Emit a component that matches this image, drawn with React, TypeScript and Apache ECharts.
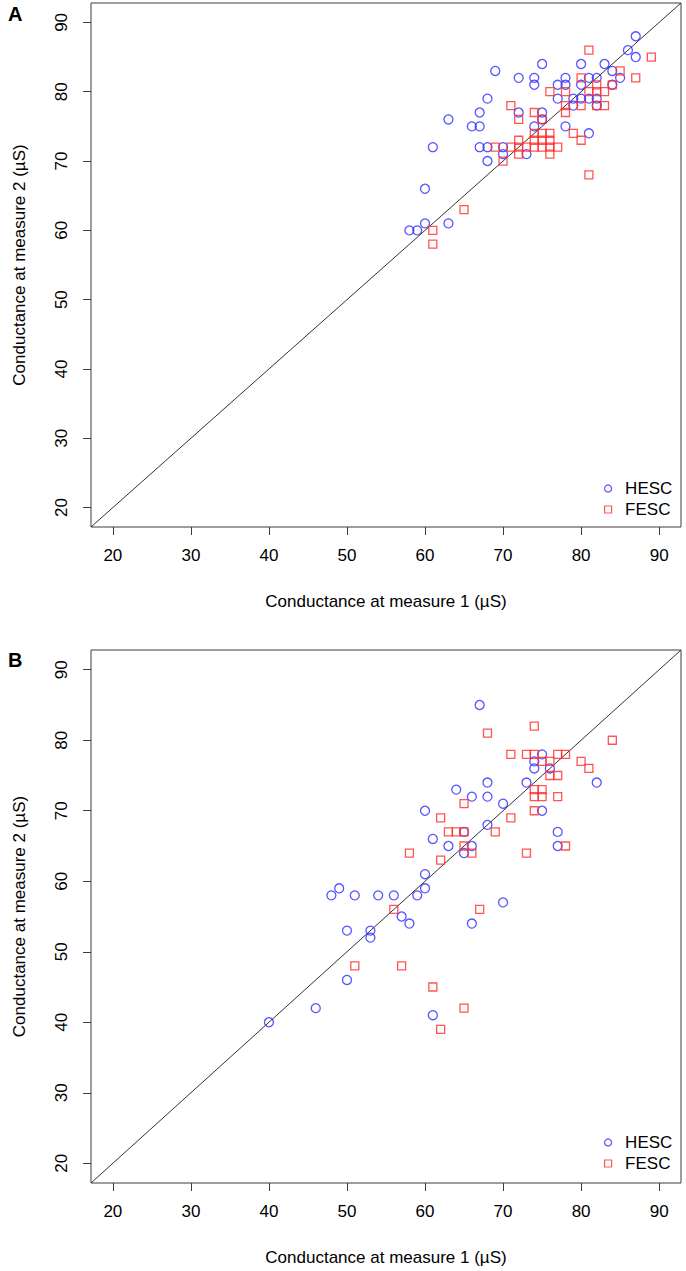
import React, { useEffect, useRef } from "react";
import * as echarts from "echarts";

// ---- data ----
const axisMin = 17.2;
const axisMax = 92.8;
const tickValues = [20, 30, 40, 50, 60, 70, 80, 90];
const panelLabels = ["A", "B"];
const seriesNames = ["HESC", "FESC"];
const xTitle = "Conductance at measure 1 (µS)";
const yTitle = "Conductance at measure 2 (µS)";
const identityLine = [
  [axisMin, axisMin],
  [axisMax, axisMax],
];

// Panel A
const hescA = [
  [87, 88], [86, 86], [87, 85], [75, 84], [80, 84], [83, 84], [69, 83], [84, 83],
  [72, 82], [74, 82], [78, 82], [81, 82], [82, 82], [85, 82], [74, 81], [77, 81],
  [78, 81], [80, 81], [84, 81], [68, 79], [77, 79], [79, 79], [80, 79], [81, 79],
  [82, 79], [79, 78], [82, 78], [67, 77], [72, 77], [75, 77], [75, 76], [63, 76],
  [66, 75], [67, 75], [74, 75], [78, 75], [81, 74], [61, 72], [67, 72], [68, 72],
  [70, 72], [70, 71], [73, 71], [68, 70], [60, 66], [60, 61], [58, 60], [59, 60],
  [63, 61],
];
const fescA = [
  [81, 86], [89, 85], [85, 83], [87, 82], [80, 82], [84, 81], [82, 81], [76, 80],
  [78, 80], [81, 80], [82, 80], [83, 80], [71, 78], [78, 78], [80, 78], [82, 78],
  [83, 78], [74, 77], [78, 77], [72, 76], [75, 76], [79, 74], [80, 73], [74, 74],
  [75, 74], [76, 74], [74, 73], [75, 73], [76, 73], [72, 73], [74, 72], [75, 72],
  [76, 72], [77, 72], [69, 72], [71, 72], [72, 72], [73, 72], [72, 71], [76, 71],
  [70, 70], [81, 68], [65, 63], [61, 60], [61, 58],
];

// Panel B
const hescB = [
  [40, 40], [46, 42], [50, 46], [50, 53], [53, 53], [53, 52], [48, 58], [49, 59],
  [51, 58], [54, 58], [56, 58], [59, 58], [57, 55], [58, 54], [60, 59], [60, 61],
  [61, 66], [63, 65], [66, 65], [65, 64], [65, 67], [60, 70], [64, 73], [66, 72],
  [66, 54], [61, 41], [67, 85], [75, 78], [74, 77], [74, 76], [76, 76], [68, 74],
  [73, 74], [82, 74], [68, 72], [70, 71], [75, 70], [68, 68], [77, 67], [77, 65],
  [70, 57],
];
const fescB = [
  [65, 71], [62, 69], [63, 67], [64, 67], [65, 67], [65, 65], [66, 64], [62, 63],
  [58, 64], [56, 56], [67, 56], [51, 48], [57, 48], [61, 45], [65, 42], [62, 39],
  [74, 82], [68, 81], [84, 80], [71, 78], [73, 78], [74, 78], [77, 78], [78, 78],
  [75, 77], [76, 77], [80, 77], [81, 76], [76, 75], [77, 75], [74, 73], [75, 73],
  [74, 72], [75, 72], [77, 72], [74, 70], [71, 69], [69, 67], [73, 64], [78, 65],
];

const panels = [
  { hesc: hescA, fesc: fescA },
  { hesc: hescB, fesc: fescB },
];

// ---- styling ----
const FONT = 'Arial, "Liberation Sans", sans-serif';
const FS = 17;
const BLUE = "#2a2aff";
const RED = "#ff2a2a";
const FRAME = "#3c3c3c";
const grids = [
  { left: 91, top: 3, width: 590, height: 524 },
  { left: 91, top: 650, width: 590, height: 533 },
];
const legendTops = [475, 1129];
const labelTops = [4, 650];

function buildOption() {
  const series: any[] = [];
  panels.forEach((p, i) => {
    series.push({
      type: "line",
      xAxisIndex: i,
      yAxisIndex: i,
      data: identityLine,
      symbol: "none",
      silent: true,
      lineStyle: { color: "#333", width: 1 },
      z: 2,
    });
    series.push({
      type: "scatter",
      name: seriesNames[0],
      xAxisIndex: i,
      yAxisIndex: i,
      data: p.hesc,
      symbol: "circle",
      symbolSize: 9,
      itemStyle: { color: "transparent", borderColor: BLUE, borderWidth: 1.3 },
      emphasis: { disabled: true },
      z: 3,
    });
    series.push({
      type: "scatter",
      name: seriesNames[1],
      xAxisIndex: i,
      yAxisIndex: i,
      data: p.fesc,
      symbol: "rect",
      symbolSize: 8,
      itemStyle: { color: "transparent", borderColor: RED, borderWidth: 1.3 },
      emphasis: { disabled: true },
      z: 3,
    });
  });

  return {
    animation: false,
    backgroundColor: "#fff",
    grid: grids.map((g) => ({
      ...g,
      show: true,
      borderColor: FRAME,
      borderWidth: 1,
      backgroundColor: "transparent",
    })),
    xAxis: grids.map((_, i) => ({
      type: "value",
      gridIndex: i,
      min: axisMin,
      max: axisMax,
      name: xTitle,
      nameLocation: "middle",
      nameGap: 66,
      nameTextStyle: { fontSize: FS, color: "#000", fontFamily: FONT },
      axisLine: { show: false },
      splitLine: { show: false },
      axisTick: {
        show: true,
        inside: false,
        length: 8,
        customValues: tickValues,
        lineStyle: { color: FRAME },
      },
      axisLabel: {
        customValues: tickValues,
        margin: 20,
        fontSize: FS,
        color: "#000",
        fontFamily: FONT,
      },
    })),
    yAxis: grids.map((_, i) => ({
      type: "value",
      gridIndex: i,
      min: axisMin,
      max: axisMax,
      name: yTitle,
      nameLocation: "middle",
      nameGap: 63,
      nameTextStyle: { fontSize: FS, color: "#000", fontFamily: FONT },
      axisLine: { show: false },
      splitLine: { show: false },
      axisTick: {
        show: true,
        inside: false,
        length: 8,
        customValues: tickValues,
        lineStyle: { color: FRAME },
      },
      axisLabel: {
        customValues: tickValues,
        rotate: 90,
        margin: 21,
        fontSize: FS,
        color: "#000",
        fontFamily: FONT,
      },
    })),
    legend: legendTops.map((top) => ({
      orient: "vertical",
      left: 599,
      top,
      itemWidth: 18,
      itemHeight: 7,
      itemGap: 4,
      selectedMode: false,
      itemStyle: { borderWidth: 1.2 },
      textStyle: { fontSize: FS, color: "#000", fontFamily: FONT, padding: [0, 0, 0, 3] },
      data: [
        { name: seriesNames[0], icon: "circle" },
        { name: seriesNames[1], icon: "path://M0,0L10,0L10,10L0,10Z" },
      ],
    })),
    graphic: panelLabels.map((t, i) => ({
      type: "text",
      left: 8,
      top: labelTops[i],
      style: { text: t, font: `bold 20px ${FONT}`, fill: "#000" },
    })),
    series,
  };
}

export default function App() {
  const ref = useRef<HTMLDivElement>(null);
  useEffect(() => {
    document.body.style.margin = "0";
    if (!ref.current) return;
    const chart = echarts.init(ref.current, undefined, { renderer: "svg" });
    chart.setOption(buildOption() as any);
    return () => chart.dispose();
  }, []);
  return <div ref={ref} style={{ width: 686, height: 1271 }} />;
}
